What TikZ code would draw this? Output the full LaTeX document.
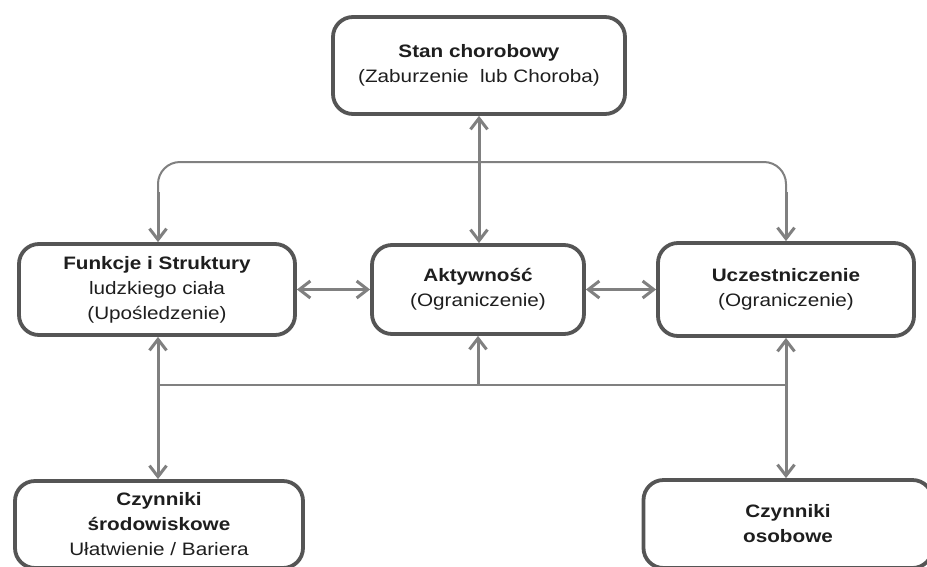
\documentclass[tikz,border=0pt]{standalone}
\usepackage{fontspec}
\setmainfont{Liberation Sans}[FakeStretch=1.15]
\usetikzlibrary{arrows.meta}
\definecolor{boxc}{HTML}{555555}
\definecolor{arrc}{HTML}{808080}
\definecolor{txtc}{HTML}{1E1E1E}
\begin{document}
\begin{tikzpicture}[x=1pt,y=-1pt,
  box/.style={draw=boxc, line width=3.8pt, rounded corners=20pt, fill=white,
    align=center, text=txtc, font=\fontsize{18}{25}\selectfont, inner sep=0pt},
  tipv/.tip={Straight Barb[length=11pt,width=17pt]},
  arrboth/.style={draw=arrc, line width=3pt, tipv-tipv},
  arrend/.style={draw=arrc, line width=3pt, -tipv},
  thinl/.style={draw=arrc, line width=2pt}]
\useasboundingbox (0,0) rectangle (927,566);
\clip (0,0) rectangle (927,566);
\fill[white] (0,0) rectangle (927,566);

\node[box, minimum width=292pt, minimum height=97pt] (S) at (479,65.5)
  {\textbf{Stan chorobowy}\\(Zaburzenie~ lub Choroba)};
\node[box, minimum width=276pt, minimum height=91pt] (F) at (157,289.5)
  {\textbf{Funkcje i Struktury}\\ludzkiego ciała\\(Upośledzenie)};
\node[box, minimum width=212pt, minimum height=89pt] (A) at (478,289.5)
  {\textbf{Aktywność}\\(Ograniczenie)};
\node[box, minimum width=256pt, minimum height=93pt] (U) at (786,289.5)
  {\textbf{Uczestniczenie}\\(Ograniczenie)};
\node[box, minimum width=288pt, minimum height=87pt] (E) at (159,524.5)
  {\textbf{Czynniki}\\\textbf{środowiskowe}\\Ułatwienie / Bariera};
\node[box, minimum width=289pt, minimum height=88pt] (P) at (788,524)
  {\textbf{Czynniki}\\\textbf{osobowe}};

% top connections
\draw[arrboth] (S.south) -- (S.south |- A.north);
\coordinate (tl) at (158,192);
\coordinate (tr) at (786,192);
\coordinate (tm) at (479,162);
\draw[thinl, rounded corners=22pt] (tl) |- (tm) -| (tr);
\draw[arrend] (tl) -- (tl |- F.north);
\draw[arrend] (tr) -- (tr |- U.north);

% horizontal connections
\draw[arrboth] (F.east) -- (A.west);
\draw[arrboth] (A.east) -- (U.west);

% bottom connections
\coordinate (bl) at (158,385);
\coordinate (br) at (786,385);
\draw[thinl] (bl) -- (br);
\draw[arrboth] (bl |- F.south) -- (bl |- E.north);
\draw[arrboth] (br |- U.south) -- (br |- P.north);
\draw[arrend] (A.south |- bl) -- (A.south);
\end{tikzpicture}
\end{document}
